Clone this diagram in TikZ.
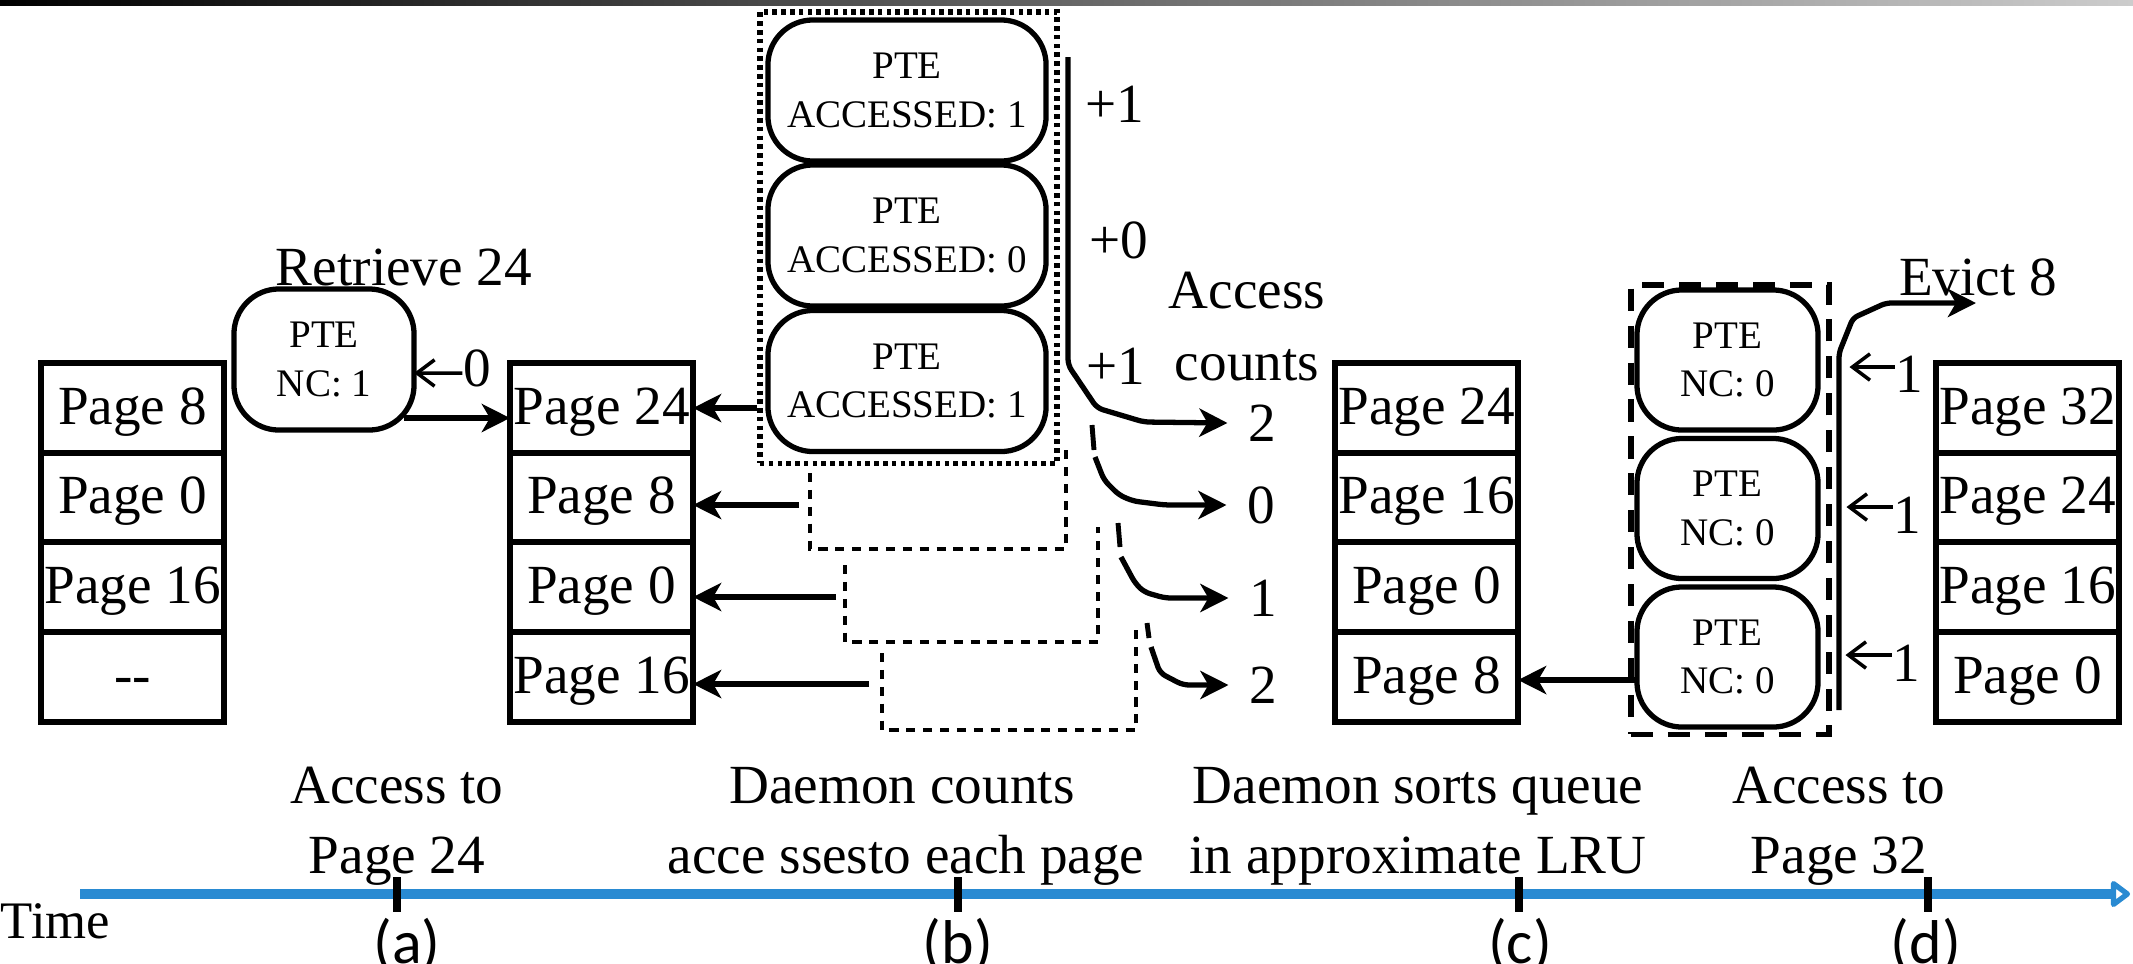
\documentclass[tikz,border=0pt]{standalone}
\usepackage{fontspec}
\setmainfont{Liberation Serif}
\newfontfamily\calfont{Carlito}
\usetikzlibrary{arrows.meta}
\definecolor{tlblue}{RGB}{41,138,210}
\newcommand\fbig{\fontsize{15.7pt}{19pt}\selectfont}
\newcommand\fsml{\fontsize{11.1pt}{13.7pt}\selectfont}
\newcommand\ftime{\fontsize{15pt}{18pt}\selectfont}
\newcommand\flet{\calfont\fontsize{17.6pt}{21pt}\selectfont}

\begin{document}
\begin{tikzpicture}[x=0.01cm, y=-0.01cm,
  cell/.style={draw, line width=1.5pt, minimum width=1.83cm, minimum height=0.8975cm,
    inner sep=0pt, outer sep=0pt, font=\fbig, text height=10.7pt, text depth=1.6pt},
  pte/.style={draw, line width=1.5pt, rounded corners=0.45cm, align=center,
    font=\fsml, inner sep=0pt, outer sep=0pt},
  accbox/.style={pte, minimum width=2.78cm, minimum height=1.41cm},
  ncbox/.style={pte, minimum width=1.81cm, minimum height=1.40cm},
  arr/.style={line width=1.5pt, -{Stealth[length=8pt,width=8pt,inset=2.3pt]}},
  tarr/.style={line width=1.0pt, -{Straight Barb[length=5pt,width=7.5pt]}},
  bendarr/.style={arr, rounded corners=0.06cm},
  lbl/.style={font=\fbig, inner sep=0pt},
  shadowln/.style={line width=1.4pt, dash pattern=on 2.6pt off 2.2pt},
  tick/.style={line width=2.2pt},
  letter/.style={font=\flet, inner sep=0pt, anchor=base}
]
% canvas and thin top strip
\fill[white] (0,0) rectangle (2133,963);
\useasboundingbox (0,0) rectangle (2133,963);
\shade[left color=black, right color=black!20] (0,0) rectangle (2133,5);

% ---- (a) queue and retrieved PTE
\node[cell] (a1) at (132.5,408)   {Page 8};
\node[cell] (a2) at (132.5,497.5) {Page 0};
\node[cell] (a3) at (132.5,587)   {Page 16};
\node[cell] (a4) at (132.5,677)   {-{}-};

\node[pte, minimum width=1.80cm, minimum height=1.41cm] (pte0) at (324,359.5) {PTE\\NC: 1};
\node[lbl, anchor=base] (ret) at (404,285) {Retrieve 24};
\node[lbl] (zero) at (477,368) {0};
\draw[tarr] ([yshift=-0.05cm]zero.west) -- (pte0.east |- 0,373);

% ---- (b) queue
\node[cell] (b1) at (601.5,408)   {Page 24};
\node[cell] (b2) at (601.5,497.5) {Page 8};
\node[cell] (b3) at (601.5,587)   {Page 0};
\node[cell] (b4) at (601.5,677)   {Page 16};

\coordinate (r0) at (404,418);
\draw[arr] (r0) -- (r0 -| b1.west);

% PTE scan with accessed bits
\node[draw, line width=1.5pt, dash pattern=on 1.3pt off 1.2pt, minimum width=2.97cm,
      minimum height=4.51cm, inner sep=0pt] (dotbox) at (908.5,237.5) {};
\node[accbox] (acc1) at (907,90.5) {PTE\\ACCESSED: 1};
\node[accbox] (acc2) at (907,235.5) {PTE\\ACCESSED: 0};
\node[accbox] (acc3) at (907,381) {PTE\\ACCESSED: 1};

% stacked copies of the scan for the remaining pages
\draw[shadowln] (810,473) -- (810,549) -- (1066,549) -- (1066,443);
\draw[shadowln] (845,565) -- (845,642) -- (1098,642) -- (1098,527);
\draw[shadowln] (882,653) -- (882,730) -- (1136,730) -- (1136,627);

\draw[arr] (dotbox.west |- b1) -- (b1.east);
\coordinate (s1) at (799,505);
\coordinate (s2) at (836,597);
\coordinate (s3) at (869,684);
\draw[arr] (s1) -- (s1 -| b2.east);
\draw[arr] (s2) -- (s2 -| b3.east);
\draw[arr] (s3) -- (s3 -| b4.east);

% accumulated access counts
\node[lbl] at (1115,104) {+1};
\node[lbl] at (1119,240) {+0};
\node[lbl] at (1116,366) {+1};
\node[lbl, anchor=base] at (1247,308) {Access};
\node[lbl, anchor=base] at (1247,380) {counts};

\node[lbl] (n1) at (1262,423) {2};
\node[lbl] (n2) at (1261,505) {0};
\node[lbl] (n3) at (1263,598) {1};
\node[lbl] (n4) at (1263,685) {2};

\coordinate (c1s) at (1068,57);
\draw[bendarr] (c1s) -- (1068,365) -- (1097,408) -- (1144,422) -- ([xshift=-0.2cm]n1.west);
\draw[line width=1.4pt] (1092,425) -- (1094,450);
\draw[bendarr] (1095,457) -- (1104,480) -- (1119,495) -- (1133,501) -- (1165,505) -- ([xshift=-0.2cm]n2.west);
\draw[line width=1.4pt] (1118,523) -- (1120,547);
\draw[bendarr] (1121,557) -- (1135,583) -- (1144,592) -- (1165,598) -- ([xshift=-0.2cm]n3.west);
\draw[line width=1.4pt] (1147,623) -- (1149,638);
\draw[bendarr] (1151,647) -- (1160,673) -- (1183,685) -- ([xshift=-0.2cm]n4.west);

% ---- (c) sorted queue
\node[cell] (c1) at (1426.5,408)   {Page 24};
\node[cell] (c2) at (1426.5,497.5) {Page 16};
\node[cell] (c3) at (1426.5,587)   {Page 0};
\node[cell] (c4) at (1426.5,677)   {Page 8};

% ---- (d) eviction
\node[draw, line width=1.5pt, dash pattern=on 6.3pt off 4.2pt, minimum width=1.98cm,
      minimum height=4.49cm, inner sep=0pt] (ncgrp) at (1730,509.5) {};
\node[ncbox] (nc1) at (1727.5,360)   {PTE\\NC: 0};
\node[ncbox] (nc2) at (1727.5,508.5) {PTE\\NC: 0};
\node[ncbox] (nc3) at (1727.5,657)   {PTE\\NC: 0};

\path ([yshift=-0.23cm]nc3.west) coordinate (q0);
\draw[arr] (q0) -- (q0 -| c4.east);

\coordinate (ev0) at (1839,710);
\coordinate (evtip) at (1976,303);
\draw[arr, rounded corners=0.05cm] (ev0) -- (1839,353) -- (1853,318) -- (1886,303) -- (evtip);
\node[lbl, anchor=base] (evict) at (1978,295) {Evict 8};

\node[lbl] (k1) at (1909,374) {1};
\node[lbl] (k2) at (1907,515) {1};
\node[lbl] (k3) at (1906,663) {1};
\draw[tarr] ([yshift=0.07cm]k1.west) -- ++(-0.45cm,0);
\draw[tarr] ([yshift=0.08cm]k2.west) -- ++(-0.46cm,0);
\draw[tarr] ([yshift=0.08cm]k3.west) -- ++(-0.46cm,0);

\node[cell] (d1) at (2027.5,408)   {Page 32};
\node[cell] (d2) at (2027.5,497.5) {Page 24};
\node[cell] (d3) at (2027.5,587)   {Page 16};
\node[cell] (d4) at (2027.5,677)   {Page 0};

% ---- time axis
\coordinate (tl0) at (80,894);
\coordinate (tl1) at (2130,894);
\draw[tlblue, line width=2.6pt, -{Triangle[open,length=6pt,width=8.5pt,line join=round]}] (tl0) -- (tl1);
\foreach \tx in {397,958,1519,1928} \draw[tick] (\tx,877) -- (\tx,912);

\node[font=\ftime, inner sep=0pt, anchor=base west] at (0,938) {Time};

\node[lbl, anchor=base] at (397,803) {Access to};
\node[lbl, anchor=base] at (397,873) {Page 24};
\node[lbl, anchor=base] at (902,803) {Daemon counts};
\node[lbl, anchor=base] at (906,873) {acce ssesto each page};
\node[lbl, anchor=base] at (1418,803) {Daemon sorts queue};
\node[lbl, anchor=base] at (1418,873) {in approximate LRU};
\node[lbl, anchor=base] at (1839,803) {Access to};
\node[lbl, anchor=base] at (1839,873) {Page 32};

\node[letter] at (407,963) {(a)};
\node[letter] at (958,963) {(b)};
\node[letter] at (1520,963) {(c)};
\node[letter] at (1926,963) {(d)};
\end{tikzpicture}
\end{document}
